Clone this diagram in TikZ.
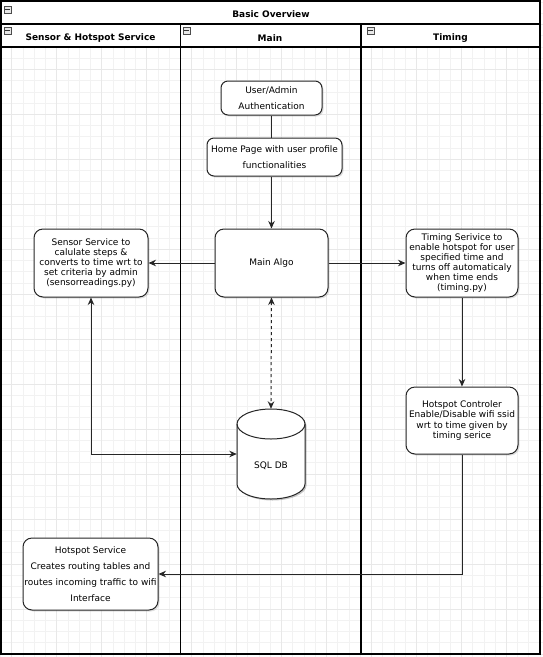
\documentclass[tikz,border=0pt]{standalone}
\usepackage{fontspec}
\setmainfont{DejaVu Sans}
\usetikzlibrary{arrows.meta,shadows,calc}
\begin{document}
\begin{tikzpicture}[x=1pt,y=-1pt, >={Stealth[length=7.5pt,width=6.5pt]},
 box/.style={draw=black!85, line width=1pt, rounded corners=9pt, fill=white, align=center, inner sep=0pt,
   font=\fontsize{9}{10.2}\selectfont,
   drop shadow={shadow xshift=1.5pt,shadow yshift=-1.5pt,opacity=0.25}},
 spaced/.style={font=\fontsize{9}{16}\selectfont},
 conn/.style={draw=black!85, line width=1pt},
 frame/.style={draw=black, line width=1.3pt},
 hdr/.style={font=\bfseries\fontsize{9}{10}\selectfont, inner sep=1pt},
 icon/.style={draw=gray!60!black, fill=gray!18, line width=0.5pt, minimum size=7pt, inner sep=0pt},
 minus/.style={line width=0.9pt, draw=black!80}
]
\useasboundingbox (0,0) rectangle (543,657);
% grid
\foreach \k in {0,...,48} {
  \pgfmathsetmacro\gx{0.5+11.24*\k}
  \draw[black!5, line width=0.6pt] (\gx,0) -- (\gx,657);
}
\foreach \k in {0,...,58} {
  \pgfmathsetmacro\gy{1.9+11.24*\k}
  \draw[black!5, line width=0.6pt] (0,\gy) -- (543,\gy);
}
\foreach \k in {1,5,...,45} {
  \pgfmathsetmacro\gx{0.5+11.24*\k}
  \draw[black!9, line width=0.6pt] (\gx,0) -- (\gx,657);
}
\foreach \k in {2,6,...,58} {
  \pgfmathsetmacro\gy{1.9+11.24*\k}
  \draw[black!9, line width=0.6pt] (0,\gy) -- (543,\gy);
}
% pool frame
\fill[white] (1,1) rectangle (540,47);
\draw[frame] (1,1) rectangle (540,654);
\draw[frame] (1,24) -- (540,24);
\draw[frame] (1,47) -- (540,47);
\draw[frame] (180.5,24) -- (180.5,654);
\draw[frame] (361,24) -- (361,654);
\node[hdr] (title) at (271,14.5) {Basic Overview};
\node[hdr] (h1) at (90.5,38.5) {Sensor \& Hotspot Service};
\node[hdr] (h2) at (270,38.5) {Main};
\node[hdr] (h3) at (450.5,38.5) {Timing};
\node[icon] (i0) at (7.5,9.5) {};
\node[icon] (i1) at (7.5,30.5) {};
\node[icon] (i2) at (186.5,30.5) {};
\node[icon] (i3) at (370.5,30.5) {};
\foreach \n in {i0,i1,i2,i3} {
  \draw[minus] ([xshift=1.3pt]\n.west) -- ([xshift=-1.3pt]\n.east);
}
% nodes
\node[box, spaced, rounded corners=7pt, minimum width=101pt, minimum height=34pt] (auth) at (271.5,98) {User/Admin\\Authentication};
\node[box, spaced, rounded corners=7pt, minimum width=135pt, minimum height=38pt] (home) at (274.5,157) {Home Page with user profile\\functionalities};
\node[box, minimum width=113pt, minimum height=68pt] (main) at (271.5,263) {Main Algo};
\node[box, minimum width=114pt, minimum height=68pt] (sensor) at (91,263) {Sensor Service to\\calulate steps \&\\converts to time wrt to\\set criteria by admin\\(sensorreadings.py)};
\node[box, minimum width=112pt, minimum height=68pt, font=\fontsize{9}{9.9}\selectfont] (timing) at (462,263) {Timing Serivice to\\enable hotspot for user\\specified time and\\turns off automaticaly\\when time ends\\(timing.py)};
\node[box, minimum width=112pt, minimum height=67pt] (ctrl) at (462,420.5) {Hotspot Controler\\Enable/Disable wifi ssid\\wrt to time given by\\timing serice};
\node[box, spaced, minimum width=135pt, minimum height=72pt] (hsvc) at (90.5,574) {Hotspot Service\\Creates routing tables and\\routes incoming traffic to wifi\\Interface};
% cylinder
\fill[black, opacity=0.22, shift={(1.5,1.5)}] (237,424) arc[start angle=180, end angle=0, x radius=34pt, y radius=15pt] -- (305,484) arc[start angle=360, end angle=180, x radius=34pt, y radius=15pt] -- cycle;
\draw[line width=1pt, draw=black!85, fill=white] (237,424) arc[start angle=180, end angle=0, x radius=34pt, y radius=15pt] -- (305,484) arc[start angle=360, end angle=180, x radius=34pt, y radius=15pt] -- cycle;
\draw[line width=1pt, draw=black!85] (237,424) arc[start angle=180, end angle=360, x radius=34pt, y radius=15pt];
\node[minimum width=68pt, minimum height=90pt, inner sep=0pt, font=\fontsize{9}{10}\selectfont] (db) at (271,454) {\raisebox{-14pt}[0pt][0pt]{SQL DB}};
% connectors
\draw[conn] (auth.south) -- (auth.south |- home.north);
\draw[conn, ->] (main.north |- home.south) -- (main.north);
\draw[conn, ->] (main.west) -- (sensor.east);
\draw[conn, ->] (main.east) -- (timing.west);
\draw[conn, ->] (timing.south) -- (ctrl.north);
\draw[conn, <->, dash pattern=on 3pt off 3pt] (main.south) -- (db.north);
\draw[conn, <->] (db.west) -| (sensor.south);
\draw[conn, ->] (ctrl.south) |- (hsvc.east);
\end{tikzpicture}
\end{document}
